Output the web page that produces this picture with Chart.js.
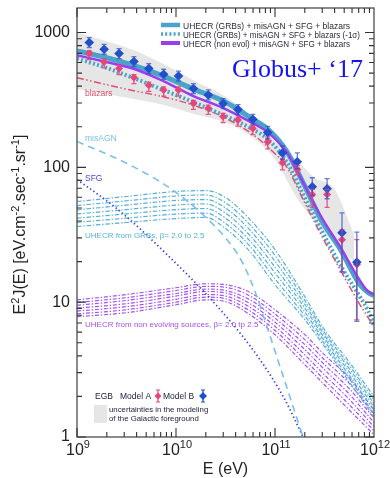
<!DOCTYPE html>
<html>
<head>
<meta charset="utf-8">
<script src="https://cdn.jsdelivr.net/npm/chart.js@4"></script>
<style>
  html, body { margin: 0; padding: 0; background: #fff; }
</style>
</head>
<body>
<canvas id="egb" width="390" height="478"></canvas>
<script>
// ---- axis ticks ----
const xTicks = [1e9, 1e10, 1e11, 1e12];
const xTickExp = ['9', '10', '11', '12'];
const yTicks = [1, 10, 100, 1000];
const yTickLabels = ['1', '10', '100', '1000'];

// ---- EGB data points (Fermi, two foreground models) ----
const pointE = [1.33e9, 1.88e9, 2.66e9, 3.76e9, 5.31e9, 7.50e9, 1.06e10, 1.50e10, 2.12e10, 2.99e10,
                4.23e10, 5.97e10, 8.44e10, 1.19e11, 1.68e11, 2.38e11, 3.36e11, 4.75e11, 6.71e11];
const modelB   = [843, 751, 698, 609, 540, 490, 476, 384, 344, 297, 268, 227, 181, 128, 110, 71.8, 69.4, 32.7, 19.8];
const modelBHi = [918, 818, 760, 663, 588, 534, 518, 418, 375, 323, 292, 247, 201, 144, 128, 83.7, 82.4, 46.0, 33.1];
const modelBLo = [774, 690, 641, 559, 496, 450, 437, 353, 316, 273, 246, 208, 163, 114, 97.6, 61.6, 58.5, 16.8, 7.2];
const modelA   = [698, 605, 540, 463, 406, 375, 375, 298, 274, 238, 224, 194, 154, 108, 96.4, 63, 63, 29.1, 19];
const modelAHi = [735, 637, 569, 488, 428, 395, 395, 314, 289, 251, 236, 204, 168, 116, 103, 68.6, 68.6, 34.5, 29.1];
const modelALo = [630, 546, 487, 418, 366, 338, 338, 269, 247, 215, 202, 175, 137, 95.8, 88.5, 50.4, 50.4, 16.8, 7.4];

// ---- galactic foreground uncertainty band ----
const bandE  = [1e9, 2e9, 4e9, 7.9e9, 1.58e10, 3.16e10, 6.3e10, 1e11, 1.58e11, 2.5e11, 4e11, 6.3e11];
const bandHi = [1005, 861, 726, 571, 434, 336, 227, 156, 118, 84, 68.6, 31.8];
const bandLo = [379, 348, 319, 288, 247, 216, 161, 115, 63, 39.7, 26.9, 20.0];

// ---- total model curves ----
const mainE     = [1e9, 1.92e9, 3.86e9, 7.57e9, 1.52e10, 3.05e10, 6.0e10, 8.5e10, 1.32e11, 1.92e11, 2.92e11, 4.54e11, 7.2e11, 8.7e11, 1e12];
const totalGRB  = [730, 655, 565, 473, 379, 309, 227, 191, 131, 77, 41, 24.8, 13.5, 11.8, 11.2];
const totalGRBm = [641, 552, 455, 373, 303, 243, 191, 161, 109, 63, 34.6, 19.0, 11.0, 8.65, 6.8];
const totalNonEvol = [678, 607, 534, 434, 336, 274, 212, 181, 129, 77.3, 43.2, 25.8, 14.5, 12.0, 11.4];
const blazars   = [463, 413, 368, 333, 288, 235, 175, 141, 100, 57.8, 31.6, 17.5, 9.6, 7.7, 6.5];

// ---- components ----
const misAgnE = [1e9, 3.05e9, 9.1e9, 1.96e10, 3.27e10, 4.64e10, 6.28e10, 8.3e10, 1.26e11, 1.92e11];
const misAgn  = [155.7, 108.7, 68.5, 43.2, 29.1, 20.0, 12.0, 6.58, 2.57, 1.0];
const sfgE = [1e9, 2.6e9, 7.75e9, 2.92e10, 7.05e10, 1.26e11, 1.92e11];
const sfg  = [81.3, 48.6, 23.3, 8.5, 3.75, 1.89, 1.0];

// ---- UHECR bundles, beta = 2.0 ... 2.5 ----
const bundleE = [1e9, 3.16e9, 1e10, 2e10, 3.16e10, 5.6e10, 1e11, 2e11, 3.16e11, 5.6e11, 1e12];
const grbLines = [
  [55.8, 60.8, 66.2, 67.3, 59.7, 41.0, 24.5, 11.0, 6.25, 3.61, 1.99],
  [52.0, 56.5, 61.3, 62.4, 54.7, 37.4, 22.2, 10.3, 5.96, 3.41, 1.88],
  [48.4, 52.5, 56.8, 57.7, 50.0, 34.2, 20.1, 9.64, 5.68, 3.23, 1.77],
  [45.1, 48.6, 52.5, 53.5, 45.8, 31.2, 18.2, 9.03, 5.41, 3.05, 1.67],
  [42.0, 45.2, 48.6, 49.5, 42.0, 28.4, 16.5, 8.45, 5.15, 2.88, 1.58],
  [39.1, 42.0, 45.0, 45.8, 38.4, 26.0, 14.9, 7.92, 4.91, 2.72, 1.49],
  [36.4, 39.0, 41.7, 42.5, 35.2, 23.7, 13.5, 7.41, 4.68, 2.57, 1.41]
];
const nonEvolLines = [
  [10.4, 11.4, 12.8, 13.7, 13.5, 11.8, 8.79, 5.74, 4.07, 2.75, 1.59],
  [9.95, 10.8, 12.2, 13.1, 12.9, 11.1, 8.18, 5.27, 3.74, 2.51, 1.48],
  [9.48, 10.3, 11.6, 12.5, 12.2, 10.4, 7.62, 4.84, 3.44, 2.29, 1.38],
  [9.02, 9.75, 11.1, 12.0, 11.7, 9.75, 7.11, 4.45, 3.16, 2.09, 1.28],
  [8.59, 9.27, 10.5, 11.4, 11.1, 9.16, 6.62, 4.07, 2.89, 1.91, 1.19],
  [8.18, 8.79, 10.0, 10.9, 10.6, 8.59, 6.17, 3.74, 2.65, 1.74, 1.11],
  [7.80, 8.36, 9.57, 10.4, 10.1, 8.07, 5.74, 3.44, 2.44, 1.59, 1.04]
];

// ---- colours ----
const cCyan = '#4aa3c8';
const cCyanLight = '#58b0d6';
const cPurple = '#9a3cf0';
const cPurpleLight = '#a552f0';
const cRed = '#e0506c';
const cAgn = '#7cc0ec';
const cSfg = '#3d4ce0';
const cBlue = '#1f4fc9';
const cPink = '#e8457a';
const cBand = '#e6e6e6';

const SANS = '"Liberation Sans", Arial, sans-serif';

function xy(es, vs) {
    return es.map((e, i) => ({ x: e, y: vs[i] }));
}

function curve(es, vs, color, width, dash, order) {
    return {
        data: xy(es, vs),
        borderColor: color,
        borderWidth: width,
        borderDash: dash || [],
        pointRadius: 0,
        fill: false,
        cubicInterpolationMode: 'monotone',
        order: order
    };
}

const datasets = [];

// band: upper fills down to the next dataset (lower)
datasets.push({
    data: xy(bandE, bandHi), borderWidth: 0, pointRadius: 0,
    backgroundColor: cBand, fill: '+1', cubicInterpolationMode: 'monotone', order: 20
});
datasets.push({
    data: xy(bandE, bandLo), borderWidth: 0, pointRadius: 0,
    backgroundColor: cBand, fill: false, cubicInterpolationMode: 'monotone', order: 20
});

nonEvolLines.forEach(vals => datasets.push(curve(bundleE, vals, cPurpleLight, 1.2, [4, 1.8, 1.4, 1.8], 15)));
grbLines.forEach(vals => datasets.push(curve(bundleE, vals, cCyanLight, 1.2, [4.5, 1.8, 1.4, 1.8], 14)));

datasets.push(curve(misAgnE, misAgn, cAgn, 1.6, [7, 5], 12));
datasets.push(curve(sfgE, sfg, cSfg, 1.8, [1.4, 2.6], 12));
datasets.push(curve(mainE, blazars, cRed, 1.5, [7, 2.5, 1.5, 2.5, 1.5, 2.5], 11));

datasets.push(curve(mainE, totalGRBm, cCyan, 4, [2, 2.2], 9));
datasets.push(curve(mainE, totalGRB, cCyan, 5, [], 8));
datasets.push(curve(mainE, totalNonEvol, cPurple, 2.4, [], 7));

datasets.push({
    data: xy(pointE, modelA), showLine: false, pointStyle: 'rectRot', pointRadius: 4,
    backgroundColor: cPink, borderColor: cPink, borderWidth: 0,
    errLo: modelALo, errHi: modelAHi, errColor: 'rgba(232,69,122,0.9)', order: 2
});
datasets.push({
    data: xy(pointE, modelB), showLine: false, pointStyle: 'rectRot', pointRadius: 4.8,
    backgroundColor: cBlue, borderColor: cBlue, borderWidth: 0,
    errLo: modelBLo, errHi: modelBHi, errColor: 'rgba(50,80,205,0.75)', order: 1
});

// error bars, drawn through the y scale
const errorBars = {
    id: 'errorBars',
    afterDatasetsDraw(chart) {
        const ctx = chart.ctx;
        const ys = chart.scales.y;
        chart.data.datasets.forEach((ds, i) => {
            if (!ds.errLo) return;
            const meta = chart.getDatasetMeta(i);
            ctx.save();
            ctx.strokeStyle = ds.errColor;
            ctx.lineWidth = 1.3;
            meta.data.forEach((pt, j) => {
                const yl = ys.getPixelForValue(ds.errLo[j]);
                const yh = ys.getPixelForValue(ds.errHi[j]);
                ctx.beginPath();
                ctx.moveTo(pt.x, yl); ctx.lineTo(pt.x, yh);
                ctx.moveTo(pt.x - 2.5, yl); ctx.lineTo(pt.x + 2.5, yl);
                ctx.moveTo(pt.x - 2.5, yh); ctx.lineTo(pt.x + 2.5, yh);
                ctx.stroke();
            });
            ctx.restore();
        });
    }
};

// frame with inward log ticks on all four sides
const frame = {
    id: 'frame',
    afterDraw(chart) {
        const ctx = chart.ctx;
        const a = chart.chartArea;
        const xs = chart.scales.x, ys = chart.scales.y;
        ctx.save();
        ctx.strokeStyle = '#5a5a5a';
        ctx.lineWidth = 1.4;
        ctx.strokeRect(a.left, a.top, a.right - a.left, a.bottom - a.top);
        ctx.lineWidth = 1.1;
        ctx.strokeStyle = '#333';
        ctx.beginPath();
        for (let d = 9; d <= 11; d++) {
            for (let m = 1; m <= 9; m++) {
                const px = xs.getPixelForValue(m * Math.pow(10, d));
                const len = m === 1 ? 9 : 5;
                ctx.moveTo(px, a.bottom); ctx.lineTo(px, a.bottom - len);
                ctx.moveTo(px, a.top); ctx.lineTo(px, a.top + len);
            }
        }
        for (let d = 0; d <= 3; d++) {
            for (let m = 1; m <= 9; m++) {
                const v = m * Math.pow(10, d);
                if (v > ys.max) break;
                const py = ys.getPixelForValue(v);
                const len = m === 1 ? 9 : 5;
                ctx.moveTo(a.left, py); ctx.lineTo(a.left + len, py);
                ctx.moveTo(a.right, py); ctx.lineTo(a.right - len, py);
            }
        }
        ctx.stroke();
        ctx.restore();
    }
};

// draw text with raised superscript parts: parts = [[text, isSup], ...]
function richWidth(ctx, parts, size, supSize) {
    let w = 0;
    parts.forEach(p => {
        ctx.font = (p[1] ? supSize : size) + 'px ' + SANS;
        w += ctx.measureText(p[0]).width;
    });
    return w;
}
function drawRich(ctx, x, y, parts, size, supSize, rise) {
    let cx = x;
    parts.forEach(p => {
        ctx.font = (p[1] ? supSize : size) + 'px ' + SANS;
        ctx.fillText(p[0], cx, p[1] ? y - rise : y);
        cx += ctx.measureText(p[0]).width;
    });
}

const annotations = {
    id: 'annotations',
    afterDraw(chart) {
        const ctx = chart.ctx;
        const a = chart.chartArea;
        const xs = chart.scales.x;
        ctx.save();
        ctx.textBaseline = 'alphabetic';
        ctx.textAlign = 'left';

        // x tick labels 10^n
        ctx.fillStyle = '#222';
        xTicks.forEach((v, i) => {
            const parts = [['10', false], [xTickExp[i], true]];
            const w = richWidth(ctx, parts, 16, 11);
            drawRich(ctx, xs.getPixelForValue(v) - w / 2 + 1, a.bottom + 18, parts, 16, 11, 7);
        });

        // axis titles
        ctx.font = '16px ' + SANS;
        ctx.textAlign = 'center';
        ctx.fillText('E (eV)', (a.left + a.right) / 2, 474);
        ctx.textAlign = 'left';
        const yTitle = [['E', false], ['2', true], ['J(E) [eV.cm', false], ['-2', true], ['.sec', false],
                        ['-1', true], ['.sr', false], ['-1', true], [']', false]];
        const tw = richWidth(ctx, yTitle, 16, 11);
        ctx.save();
        ctx.translate(25, (a.top + a.bottom) / 2 + 2);
        ctx.rotate(-Math.PI / 2);
        drawRich(ctx, -tw / 2, 0, yTitle, 16, 11, 6);
        ctx.restore();

        // top-right legend
        const leg = [
            { y: 25, color: cCyan, width: 4.5, dash: [], fit: 167, text: 'UHECR (GRBs) + misAGN + SFG + blazars' },
            { y: 34, color: cCyan, width: 3.5, dash: [2, 2.2], fit: 177, text: 'UHECR (GRBs) + misAGN + SFG + blazars (-1\u03c3)' },
            { y: 43, color: cPurple, width: 4, dash: [], fit: 167, text: 'UHECR (non evol) + misAGN + SFG + blazars' }
        ];
        leg.forEach(l => {
            ctx.save();
            ctx.strokeStyle = l.color;
            ctx.lineWidth = l.width;
            ctx.setLineDash(l.dash);
            ctx.beginPath();
            ctx.moveTo(161, l.y); ctx.lineTo(180, l.y);
            ctx.stroke();
            ctx.restore();
            ctx.fillStyle = '#2a2a3a';
            ctx.font = '9.3px ' + SANS;
            ctx.fillText(l.text, 183, l.y + 3.5, l.fit);
        });

        // Globus+ '17
        ctx.fillStyle = '#1414f0';
        ctx.font = '26px "Liberation Serif", "Times New Roman", serif';
        ctx.fillText('Globus+ \u201817', 232, 77);

        // curve labels
        ctx.font = '8.5px ' + SANS;
        ctx.fillStyle = cRed;       ctx.fillText('blazars', 85, 96);
        ctx.fillStyle = cAgn;       ctx.fillText('misAGN', 85, 141);
        ctx.fillStyle = cSfg;       ctx.fillText('SFG', 85, 181);
        ctx.font = '8px ' + SANS;
        ctx.fillStyle = cCyanLight; ctx.fillText('UHECR from GRBs, \u03b2= 2.0 to 2.5', 85, 238);
        ctx.fillStyle = cPurpleLight;
        ctx.fillText('UHECR from non evolving sources, \u03b2= 2.0 tp 2.5', 85, 327);

        // bottom-left legend
        ctx.font = '8.5px ' + SANS;
        ctx.fillStyle = '#1c1c3c';
        ctx.fillText('EGB', 95, 399);
        ctx.fillText('Model A', 120, 399);
        ctx.fillText('Model B', 163, 399);
        const marker = (x, y, color, r) => {
            ctx.fillStyle = color;
            ctx.beginPath();
            ctx.moveTo(x, y - r); ctx.lineTo(x + r, y); ctx.lineTo(x, y + r); ctx.lineTo(x - r, y);
            ctx.closePath(); ctx.fill();
            ctx.strokeStyle = color; ctx.lineWidth = 1.2;
            ctx.beginPath();
            ctx.moveTo(x, y - 6); ctx.lineTo(x, y + 6);
            ctx.moveTo(x - 2, y - 6); ctx.lineTo(x + 2, y - 6);
            ctx.moveTo(x - 2, y + 6); ctx.lineTo(x + 2, y + 6);
            ctx.stroke();
        };
        marker(158, 396, cPink, 3.5);
        marker(203, 396, cBlue, 4);
        ctx.fillStyle = cBand;
        ctx.fillRect(94, 405, 13, 18);
        ctx.fillStyle = '#1c1c3c';
        ctx.font = '7.8px ' + SANS;
        ctx.fillText('uncertainties in the modeling', 109, 412);
        ctx.fillText('of the Galactic foreground', 109, 421);
        ctx.restore();
    }
};

new Chart(document.getElementById('egb'), {
    type: 'line',
    data: { datasets: datasets },
    options: {
        responsive: false,
        animation: false,
        devicePixelRatio: 1,
        layout: { padding: { top: 8, right: 16, left: 0, bottom: 0 } },
        plugins: { legend: { display: false }, tooltip: { enabled: false } },
        scales: {
            x: {
                type: 'logarithmic',
                min: 1e9,
                max: 1e12,
                grid: { display: false, drawTicks: false },
                border: { display: false },
                ticks: { display: false },
                afterBuildTicks: s => { s.ticks = xTicks.map(v => ({ value: v })); },
                afterFit: s => { s.height = 41; s.paddingLeft = 0; s.paddingRight = 0; s.paddingTop = 0; s.paddingBottom = 0; }
            },
            y: {
                type: 'logarithmic',
                min: 1,
                max: 1520,
                grid: { display: false, drawTicks: false },
                border: { display: false },
                ticks: {
                    padding: 7,
                    color: '#222',
                    font: { size: 16, family: SANS },
                    callback: v => yTickLabels[yTicks.indexOf(v)]
                },
                afterBuildTicks: s => { s.ticks = yTicks.map(v => ({ value: v })); },
                afterFit: s => { s.width = 77; s.paddingTop = 0; s.paddingBottom = 0; s.paddingLeft = 0; s.paddingRight = 0; }
            }
        }
    },
    plugins: [errorBars, frame, annotations]
});
</script>
</body>
</html>
